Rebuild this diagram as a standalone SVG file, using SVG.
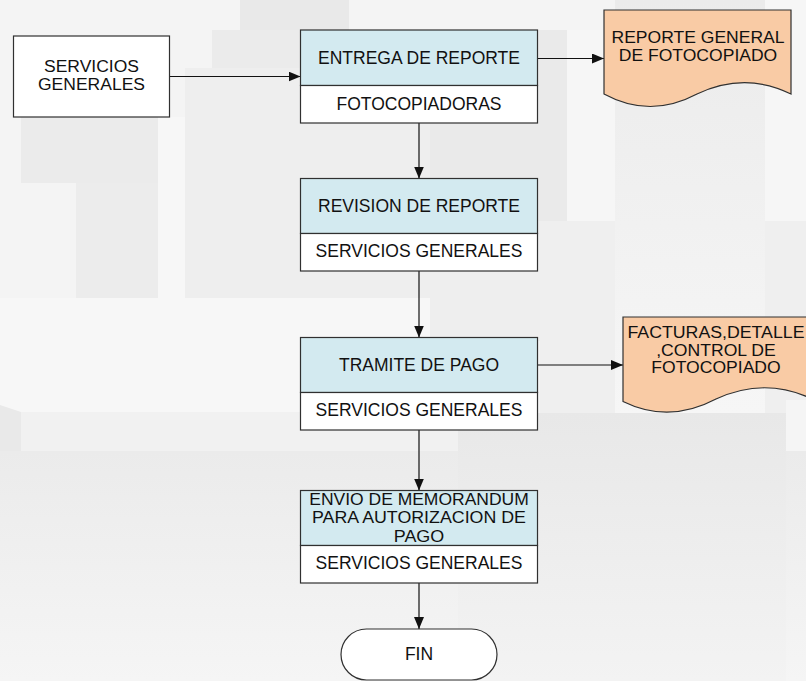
<svg xmlns="http://www.w3.org/2000/svg" width="806" height="681" viewBox="0 0 806 681">
  <defs>
    <style>
      .box { stroke: #303030; stroke-width: 1.2; }
      .head { fill: #d3eaf0; }
      .foot { fill: #ffffff; }
      .doc { fill: #f9cba5; stroke: #303030; stroke-width: 1.2; }
      .lbl { font-family: "Liberation Sans", Arial, sans-serif; font-size: 17.5px; fill: #111111; text-anchor: middle; }
      .ml { font-size: 16px; }
      .edge { fill: none; stroke: #111111; stroke-width: 1.2; marker-end: url(#arrow); }
    </style>
    <marker id="arrow" markerUnits="userSpaceOnUse" markerWidth="12" markerHeight="10" refX="12" refY="5" orient="auto">
      <path d="M0,0 L12,5 L0,10 Z" fill="#111111"/>
    </marker>
    <linearGradient id="fadeLow" x1="0" y1="0" x2="0" y2="1">
      <stop offset="0" stop-color="#ebebeb"/>
      <stop offset="1" stop-color="#f5f5f5"/>
    </linearGradient>
    <linearGradient id="fadeCol" x1="0" y1="0" x2="0" y2="1">
      <stop offset="0" stop-color="#ebebeb"/>
      <stop offset="1" stop-color="#f6f6f6"/>
    </linearGradient>
    <linearGradient id="fadeBlock" x1="0" y1="0" x2="0" y2="1">
      <stop offset="0" stop-color="#e8e8e8"/>
      <stop offset="1" stop-color="#f3f3f3"/>
    </linearGradient>
  </defs>

  <!-- backdrop: pale city skyline -->
  <g id="backdrop">
    <rect width="806" height="681" fill="#f4f4f4"/>
    <rect x="240" y="0" width="109" height="30" fill="#e9e9e9"/>
    <rect x="212" y="30" width="355" height="38" fill="#ebebeb"/>
    <rect x="185" y="68" width="245" height="230" fill="#eeeeee"/>
    <rect x="430" y="30" width="137" height="191" fill="#eaeaea"/>
    <rect x="430" y="221" width="185" height="120" fill="#eeeeee"/>
    <rect x="21" y="117" width="137" height="66" fill="#ebebeb"/>
    <rect x="76" y="183" width="82" height="115" fill="#ececec"/>
    <rect x="158" y="117" width="27" height="181" fill="#f7f7f7"/>
    <rect x="567" y="30" width="48" height="191" fill="#f6f6f6"/>
    <rect x="615" y="0" width="150" height="413" fill="url(#fadeCol)"/>
    <rect x="765" y="0" width="41" height="221" fill="#f6f6f6"/>
    <rect x="540" y="221" width="75" height="192" fill="#efefef"/>
    <rect x="765" y="221" width="41" height="192" fill="#efefef"/>
    <rect x="0" y="298" width="430" height="114" fill="#f7f7f7"/>
    <polygon points="0,405 21,412 21,451 0,451" fill="#e9e9e9"/>
    <rect x="21" y="412" width="437" height="39" fill="#f1f1f1"/>
    <rect x="786" y="400" width="20" height="51" fill="#f5f5f5"/>
    <rect x="0" y="451" width="806" height="230" fill="url(#fadeLow)"/>
    <rect x="458" y="413" width="328" height="268" fill="url(#fadeBlock)"/>
  </g>

  <!-- connectors -->
  <g id="edges">
    <path class="edge" d="M169.5,76.5 H300.5"/>
    <path class="edge" d="M537.5,58.5 H604"/>
    <path class="edge" d="M419,123 V178.5"/>
    <path class="edge" d="M419,271 V337.5"/>
    <path class="edge" d="M537.5,365 H623"/>
    <path class="edge" d="M419,430 V490.5"/>
    <path class="edge" d="M419,583 V629"/>
  </g>

  <g id="servicios-generales">
    <rect class="box foot" x="13.5" y="36" width="156" height="81"/>
    <text class="lbl ml" x="91.5" y="72.3" textLength="95" lengthAdjust="spacingAndGlyphs">SERVICIOS</text>
    <text class="lbl ml" x="91.5" y="90.3" textLength="107" lengthAdjust="spacingAndGlyphs">GENERALES</text>
  </g>

  <g id="entrega-reporte">
    <rect class="box head" x="300.5" y="30" width="237" height="55.5"/>
    <rect class="box foot" x="300.5" y="85.5" width="237" height="37.5"/>
    <text class="lbl" x="419" y="64">ENTREGA DE REPORTE</text>
    <text class="lbl" x="419" y="109.5">FOTOCOPIADORAS</text>
  </g>

  <g id="revision-reporte">
    <rect class="box head" x="300.5" y="178.5" width="237" height="55"/>
    <rect class="box foot" x="300.5" y="233.5" width="237" height="37.5"/>
    <text class="lbl" x="419" y="211.7">REVISION DE REPORTE</text>
    <text class="lbl" x="419" y="257.3">SERVICIOS GENERALES</text>
  </g>

  <g id="tramite-pago">
    <rect class="box head" x="300.5" y="337.5" width="237" height="55"/>
    <rect class="box foot" x="300.5" y="392.5" width="237" height="37.5"/>
    <text class="lbl" x="419" y="370.7">TRAMITE DE PAGO</text>
    <text class="lbl" x="419" y="416">SERVICIOS GENERALES</text>
  </g>

  <g id="envio-memorandum">
    <rect class="box head" x="300.5" y="490.5" width="237" height="55"/>
    <rect class="box foot" x="300.5" y="545.5" width="237" height="37.5"/>
    <text class="lbl ml" x="419" y="505" textLength="219.5" lengthAdjust="spacingAndGlyphs">ENVIO DE MEMORANDUM</text>
    <text class="lbl ml" x="419" y="523.3" textLength="214" lengthAdjust="spacingAndGlyphs">PARA AUTORIZACION DE</text>
    <text class="lbl ml" x="419" y="541.7" textLength="50.5" lengthAdjust="spacingAndGlyphs">PAGO</text>
    <text class="lbl" x="419" y="569">SERVICIOS GENERALES</text>
  </g>

  <g id="fin">
    <rect class="box foot" x="341" y="629" width="156" height="51" rx="25.5" ry="25.5"/>
    <text class="lbl" x="419" y="660">FIN</text>
  </g>

  <g id="reporte-general">
    <path class="doc" d="M604,10 H791 V94 Q745,71.4 697,94 Q650,119 604,94 Z"/>
    <text class="lbl ml" x="698" y="42.7" textLength="173" lengthAdjust="spacingAndGlyphs">REPORTE GENERAL</text>
    <text class="lbl ml" x="698" y="60.7" textLength="158.5" lengthAdjust="spacingAndGlyphs">DE FOTOCOPIADO</text>
  </g>

  <g id="facturas">
    <path class="doc" d="M623,317 H810 V398 Q764,377 716,399 Q669,424 623,401.5 Z"/>
    <text class="lbl ml" x="716" y="338.3" textLength="177" lengthAdjust="spacingAndGlyphs">FACTURAS,DETALLE</text>
    <text class="lbl ml" x="716" y="355.7" textLength="119.6" lengthAdjust="spacingAndGlyphs">,CONTROL DE</text>
    <text class="lbl ml" x="716" y="373.3" textLength="129.3" lengthAdjust="spacingAndGlyphs">FOTOCOPIADO</text>
  </g>
</svg>
